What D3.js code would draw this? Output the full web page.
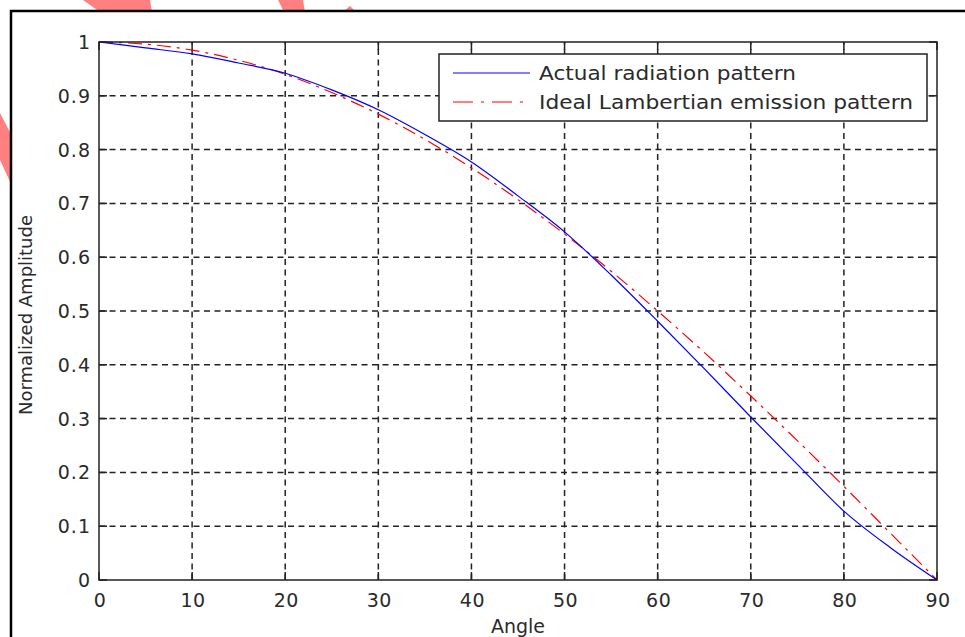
<!DOCTYPE html>
<html>
<head>
<meta charset="utf-8">
<script src="https://cdn.jsdelivr.net/npm/d3@7"></script>
<style>
  body { margin: 0; background: #fff; }
  svg { display: block; }
  text { font-family: "DejaVu Sans", sans-serif; fill: #2a2a2a; }
</style>
</head>
<body>
<svg id="chart" width="965" height="637"></svg>
<script>
// values
var angles = [0, 5, 10, 15, 20, 25, 30, 35, 40, 45, 50, 55, 60, 65, 70, 75, 80, 85, 90];
var actual = [1, 0.989, 0.978, 0.961, 0.942, 0.911, 0.874, 0.828, 0.777, 0.714, 0.647, 0.567, 0.481, 0.393, 0.303, 0.215, 0.128, 0.06, 0];
var ideal  = [1, 0.996, 0.985, 0.966, 0.94, 0.906, 0.866, 0.819, 0.766, 0.707, 0.643, 0.574, 0.5, 0.423, 0.342, 0.259, 0.174, 0.087, 0];
var xTicks = [0, 10, 20, 30, 40, 50, 60, 70, 80, 90];
var yTicks = [0, 0.1, 0.2, 0.3, 0.4, 0.5, 0.6, 0.7, 0.8, 0.9, 1];
var seriesNames = ["Actual radiation pattern", "Ideal Lambertian emission pattern"];

var svg = d3.select("#chart");

// pink marks peeking out round the figure frame
var marks = [
    [[83, 0], [150, 0], [152, 12], [100, 12]],
    [[278, 0], [303, 0], [305, 12], [284, 12]],
    [[343, 12], [356, 12], [350, 6]],
    [[0, 113], [0, 160], [12, 186], [12, 136]]
];
svg.selectAll(".wm").data(marks).enter().append("polygon")
    .attr("class", "wm")
    .attr("points", function(d) { return d.map(function(p) { return p.join(","); }).join(" "); })
    .attr("fill", "#ff8080");

// figure frame
svg.append("rect")
    .attr("x", 11).attr("y", 11)
    .attr("width", 1000).attr("height", 700)
    .attr("fill", "#fff")
    .attr("stroke", "#000")
    .attr("stroke-width", 2.5);

var pLeft = 99, pRight = 937, pTop = 42, pBottom = 580;
var x = d3.scaleLinear().domain([0, 90]).range([pLeft, pRight]);
var y = d3.scaleLinear().domain([0, 1]).range([pBottom, pTop]);

// grid
var grid = svg.append("g")
    .attr("stroke", "#222")
    .attr("stroke-width", 1.5)
    .attr("stroke-dasharray", "6,4.5");
grid.selectAll(".vg").data(xTicks.slice(1, -1)).enter().append("line")
    .attr("x1", function(d) { return x(d); }).attr("x2", function(d) { return x(d); })
    .attr("y1", pBottom).attr("y2", pTop);
grid.selectAll(".hg").data(yTicks.slice(1, -1)).enter().append("line")
    .attr("x1", pLeft).attr("x2", pRight)
    .attr("y1", function(d) { return y(d); }).attr("y2", function(d) { return y(d); });

// inward ticks on all four sides
var tl = 8;
var ticks = svg.append("g").attr("stroke", "#222").attr("stroke-width", 1.5);
xTicks.forEach(function(d) {
    ticks.append("line").attr("x1", x(d)).attr("x2", x(d)).attr("y1", pBottom).attr("y2", pBottom - tl);
    ticks.append("line").attr("x1", x(d)).attr("x2", x(d)).attr("y1", pTop).attr("y2", pTop + tl);
});
yTicks.forEach(function(d) {
    ticks.append("line").attr("x1", pLeft).attr("x2", pLeft + tl).attr("y1", y(d)).attr("y2", y(d));
    ticks.append("line").attr("x1", pRight).attr("x2", pRight - tl).attr("y1", y(d)).attr("y2", y(d));
});

// tick labels
svg.selectAll(".xl").data(xTicks).enter().append("text")
    .attr("x", function(d) { return x(d) + 1; })
    .attr("y", 607)
    .attr("text-anchor", "middle")
    .attr("font-size", "19px")
    .attr("letter-spacing", "0.5px")
    .text(function(d) { return d; });
svg.selectAll(".yl").data(yTicks).enter().append("text")
    .attr("x", 91)
    .attr("y", function(d) { return y(d) + 7; })
    .attr("text-anchor", "end")
    .attr("font-size", "19px")
    .attr("letter-spacing", "1px")
    .text(function(d) { return d; });

// axis titles
svg.append("text")
    .attr("x", 518).attr("y", 633)
    .attr("text-anchor", "middle")
    .attr("font-size", "19px")
    .text("Angle");
svg.append("text")
    .attr("transform", "translate(32,315) rotate(-90)")
    .attr("text-anchor", "middle")
    .attr("font-size", "18px")
    .text("Normalized Amplitude");

// curves
var line = d3.line()
    .x(function(d, i) { return x(angles[i]); })
    .y(function(d) { return y(d); })
    .curve(d3.curveMonotoneX);

svg.append("path")
    .datum(ideal)
    .attr("d", line)
    .attr("fill", "none")
    .attr("stroke", "#ff0000")
    .attr("stroke-width", 1.2)
    .attr("stroke-dasharray", "14,6,3,6");
svg.append("path")
    .datum(actual)
    .attr("d", line)
    .attr("fill", "none")
    .attr("stroke", "#0000ff")
    .attr("stroke-width", 1.2);

// plot box
svg.append("rect")
    .attr("x", pLeft).attr("y", pTop)
    .attr("width", pRight - pLeft).attr("height", pBottom - pTop)
    .attr("fill", "none")
    .attr("stroke", "#222")
    .attr("stroke-width", 1.5);

// legend
var lg = svg.append("g");
lg.append("rect")
    .attr("x", 439).attr("y", 54)
    .attr("width", 488).attr("height", 67)
    .attr("fill", "#fff")
    .attr("stroke", "#222")
    .attr("stroke-width", 1.5);
var colors = ["#0000ff", "#ff0000"];
var dashes = [null, "20,8,3,8"];
var lens = [257, 374];
seriesNames.forEach(function(name, i) {
    var cy = 73 + i * 29;
    lg.append("line")
        .attr("x1", 453).attr("x2", 530)
        .attr("y1", cy).attr("y2", cy)
        .attr("stroke", colors[i])
        .attr("stroke-width", 1.2)
        .attr("stroke-dasharray", dashes[i]);
    lg.append("text")
        .attr("x", 539).attr("y", cy + 7)
        .attr("font-size", "20px")
        .attr("textLength", lens[i])
        .attr("lengthAdjust", "spacingAndGlyphs")
        .text(name);
});
</script>
</body>
</html>
